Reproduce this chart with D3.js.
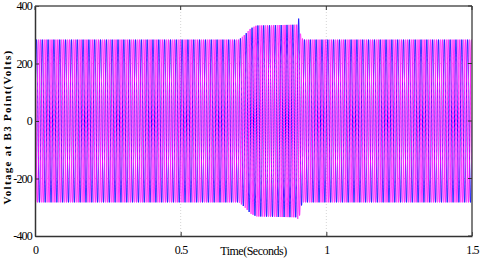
<!DOCTYPE html>
<meta charset="utf-8">
<head>
<title>Voltage at B3 Point</title>
<script src="https://cdn.jsdelivr.net/npm/d3@7/dist/d3.min.js"></script>
<style>
body { margin: 0; background: #fff; }
.tick text { font-family: "Liberation Serif", "Times New Roman", serif; font-size: 12px; fill: #000; }
.grid line { stroke: #bbb; stroke-width: 0.6px; stroke-dasharray: 1,2; }
.wave { fill: none; stroke-width: 1px; }
</style>
</head>
<body>
<script>
// chart values
const xTicks = [0, 0.5, 1, 1.5];
const yTicks = [-400, -200, 0, 200, 400];
const freq = 50;                    // Hz, ~75 cycles over 1.5 s
const phaseShifts = [0, 120, -120]; // degrees
// envelope of the peaks (time in s, peak in volts)
const envTime = [0, 0.70, 0.72, 0.74, 0.76, 0.90, 0.903, 0.905, 0.907, 0.912, 0.92, 1.5];
const envPeak = [283, 283, 300, 322, 332, 335, 345, 356, 338, 300, 283, 283];

const phaseColors = ["#0000ff", "#ff00ff", "#ff30ff"];

const W = 480, H = 263;
const margin = {top: 6, right: 8, bottom: 27, left: 35};
const width = W - margin.left - margin.right;
const height = H - margin.top - margin.bottom;

const svg = d3.select("body").append("svg")
    .attr("width", W)
    .attr("height", H);

const g = svg.append("g")
    .attr("transform", `translate(${margin.left},${margin.top})`);

const x = d3.scaleLinear().domain([0, 1.5]).range([0, width]);
const y = d3.scaleLinear().domain([-400, 400]).range([height, 0]);

// dotted grid
g.append("g").attr("class", "grid")
    .selectAll("line").data(xTicks.slice(1, -1)).enter().append("line")
    .attr("x1", d => x(d)).attr("x2", d => x(d))
    .attr("y1", 0).attr("y2", height);
g.append("g").attr("class", "grid")
    .selectAll("line").data(yTicks.slice(1, -1)).enter().append("line")
    .attr("x1", 0).attr("x2", width)
    .attr("y1", d => y(d)).attr("y2", d => y(d));

// envelope lookup
const env = d3.scaleLinear().domain(envTime).range(envPeak);

// sample the three phases
const samples = d3.range(0, 1.5, 0.00005);
g.append("clipPath").attr("id", "clip")
    .append("rect").attr("width", width).attr("height", height);

const line = d3.line()
    .x(d => x(d[0]))
    .y(d => y(d[1]));

phaseShifts.forEach((ph, i) => {
    const pts = samples.map(t => [t, env(t) * Math.sin(2 * Math.PI * freq * t + ph * Math.PI / 180)]);
    g.append("path")
        .attr("class", "wave")
        .attr("clip-path", "url(#clip)")
        .attr("stroke", phaseColors[i])
        .attr("d", line(pts));
});

// axes, matlab-ish: ticks pointing inward, box round the plot
const xAxis = d3.axisBottom(x).tickValues(xTicks).tickFormat(d => String(d)).tickSizeInner(-4).tickSizeOuter(0).tickPadding(9);
const yAxis = d3.axisLeft(y).tickValues(yTicks).tickFormat(d => String(d)).tickSizeInner(-4).tickSizeOuter(0).tickPadding(3);

g.append("g").attr("transform", `translate(0,${height})`).call(xAxis)
    .call(a => a.select(".domain").attr("stroke", "#333").attr("stroke-width", 1.5));
g.append("g").call(yAxis)
    .call(a => a.select(".domain").attr("stroke", "#333").attr("stroke-width", 1.5));

// top and right frame with inward ticks
g.append("line").attr("x1", 0).attr("x2", width).attr("y1", 0).attr("y2", 0)
    .attr("stroke", "#555").attr("stroke-width", 1.5);
g.append("line").attr("x1", width).attr("x2", width).attr("y1", 0).attr("y2", height)
    .attr("stroke", "#555").attr("stroke-width", 1.5);
g.selectAll(".ttick").data(xTicks).enter().append("line")
    .attr("x1", d => x(d)).attr("x2", d => x(d)).attr("y1", 0).attr("y2", 4)
    .attr("stroke", "#333");
g.selectAll(".rtick").data(yTicks).enter().append("line")
    .attr("x1", width - 4).attr("x2", width).attr("y1", d => y(d)).attr("y2", d => y(d))
    .attr("stroke", "#333");

g.selectAll(".tick line").attr("stroke", "#333");
g.selectAll(".tick text").style("letter-spacing", "-0.8px");

// axis titles
svg.append("text")
    .attr("x", margin.left + x(0.75))
    .attr("y", H - 8)
    .attr("text-anchor", "middle")
    .style("font-family", "'Liberation Serif', serif")
    .style("font-size", "12px")
    .style("letter-spacing", "-0.5px")
    .text("Time(Seconds)");

svg.append("text")
    .attr("transform", `translate(11,${margin.top + height / 2 + 6}) rotate(-90)`)
    .attr("text-anchor", "middle")
    .style("font-family", "'Liberation Serif', serif")
    .style("font-weight", "bold")
    .style("font-size", "11px")
    .style("letter-spacing", "1.3px")
    .text("Voltage at B3 Point(Volts)");
</script>
</body>
</html>
